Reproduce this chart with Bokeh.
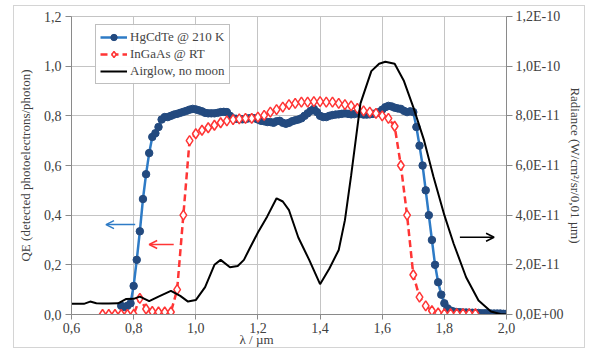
import numpy as np
from bokeh.plotting import figure
from bokeh.models import (Range1d, LinearAxis, FixedTicker, Legend, LegendItem,
                          Arrow, OpenHead)
from bokeh.embed import file_html
from bokeh.resources import INLINE

# ---------------- data ----------------
x_ticks = [0.6, 0.8, 1.0, 1.2, 1.4, 1.6, 1.8, 2.0]
x_tick_labels = ["0,6", "0,8", "1,0", "1,2", "1,4", "1,6", "1,8", "2,0"]
qe_ticks = [0.0, 0.2, 0.4, 0.6, 0.8, 1.0, 1.2]
qe_tick_labels = ["0,0", "0,2", "0,4", "0,6", "0,8", "1,0", "1,2"]
rad_ticks = [0, 2, 4, 6, 8, 10, 12]          # in units of 1E-11 W/cm2/sr/0.01um
rad_tick_labels = ["0,0E+00", "2,0E-11", "4,0E-11", "6,0E-11", "8,0E-11", "1,0E-10", "1,2E-10"]

hgcdte_wl = [0.76, 0.77, 0.78, 0.79, 0.80, 0.81, 0.82, 0.83, 0.84, 0.85,
             0.86, 0.87, 0.88, 0.89, 0.90, 0.91, 0.92, 0.93, 0.94, 0.95,
             0.96, 0.97, 0.98, 0.99, 1.00, 1.01, 1.02, 1.03, 1.04, 1.05,
             1.06, 1.07, 1.08, 1.09, 1.10, 1.11, 1.12, 1.13, 1.14, 1.15,
             1.16, 1.17, 1.18, 1.19, 1.20, 1.21, 1.22, 1.23, 1.24, 1.25,
             1.26, 1.27, 1.28, 1.29, 1.30, 1.31, 1.32, 1.33, 1.34, 1.35,
             1.36, 1.37, 1.38, 1.39, 1.40, 1.41, 1.42, 1.43, 1.44, 1.45,
             1.46, 1.47, 1.48, 1.49, 1.50, 1.51, 1.52, 1.53, 1.54, 1.55,
             1.56, 1.57, 1.58, 1.59, 1.60, 1.61, 1.62, 1.63, 1.64, 1.65,
             1.66, 1.67, 1.68, 1.69, 1.70, 1.71, 1.72, 1.73, 1.74, 1.75,
             1.76, 1.77, 1.78, 1.79, 1.80, 1.81, 1.82, 1.83, 1.84, 1.85,
             1.86, 1.87, 1.88, 1.89, 1.90, 1.91, 1.92, 1.93, 1.94, 1.95,
             1.96, 1.97, 1.98, 1.99, 2.00]
hgcdte_qe = [0.035, 0.030, 0.035, 0.045, 0.115, 0.220, 0.335, 0.465, 0.565, 0.650,
             0.715, 0.730, 0.755, 0.785, 0.795, 0.795, 0.800, 0.805, 0.808, 0.812,
             0.816, 0.820, 0.825, 0.828, 0.826, 0.822, 0.818, 0.812, 0.810, 0.810,
             0.810, 0.812, 0.815, 0.816, 0.815, 0.800, 0.790, 0.788, 0.787, 0.786,
             0.787, 0.790, 0.792, 0.790, 0.785, 0.780, 0.778, 0.775, 0.775, 0.772,
             0.778, 0.780, 0.772, 0.768, 0.772, 0.778, 0.782, 0.785, 0.790, 0.800,
             0.810, 0.820, 0.828, 0.815, 0.800, 0.795, 0.795, 0.800, 0.803, 0.805,
             0.806, 0.808, 0.810, 0.808, 0.806, 0.807, 0.810, 0.808, 0.805, 0.805,
             0.806, 0.808, 0.810, 0.815, 0.825, 0.835, 0.840, 0.838, 0.833, 0.830,
             0.828, 0.820, 0.815, 0.818, 0.815, 0.755, 0.680, 0.600, 0.500, 0.400,
             0.300, 0.200, 0.130, 0.080, 0.045, 0.025, 0.016, 0.012, 0.010, 0.009,
             0.008, 0.008, 0.007, 0.007, 0.006, 0.006, 0.005, 0.005, 0.005, 0.004,
             0.004, 0.004, 0.004, 0.003, 0.003]

ingaas_wl = [0.70, 0.72, 0.74, 0.76, 0.78, 0.80, 0.82, 0.84, 0.86, 0.88,
             0.90, 0.92, 0.94, 0.96, 0.98, 1.00, 1.02, 1.04, 1.06, 1.08,
             1.10, 1.12, 1.14, 1.16, 1.18, 1.20, 1.22, 1.24, 1.26, 1.28,
             1.30, 1.32, 1.34, 1.36, 1.38, 1.40, 1.42, 1.44, 1.46, 1.48,
             1.50, 1.52, 1.54, 1.56, 1.58, 1.60, 1.62, 1.64, 1.66, 1.68,
             1.70, 1.72, 1.74, 1.76, 1.78, 1.80, 1.82, 1.84, 1.86, 1.88,
             1.90]
ingaas_qe = [0.000, 0.000, 0.000, 0.000, 0.000, 0.000, 0.065, 0.022, 0.012, 0.010,
             0.010, 0.010, 0.100, 0.400, 0.700, 0.728, 0.742, 0.752, 0.762, 0.772,
             0.780, 0.785, 0.788, 0.790, 0.790, 0.795, 0.802, 0.815, 0.825, 0.835,
             0.845, 0.850, 0.855, 0.855, 0.857, 0.857, 0.855, 0.855, 0.850, 0.845,
             0.840, 0.830, 0.820, 0.815, 0.810, 0.800, 0.790, 0.758, 0.600, 0.400,
             0.160, 0.070, 0.035, 0.015, 0.006, 0.003, 0.003, 0.003, 0.003, 0.003,
             0.003]

airglow_wl = [0.60, 0.62, 0.64, 0.66, 0.68, 0.70, 0.72, 0.75, 0.775, 0.80,
              0.82, 0.85, 0.88, 0.92, 0.95, 0.975, 1.00, 1.03, 1.06, 1.08,
              1.11, 1.135, 1.155, 1.175, 1.20, 1.23, 1.26, 1.28, 1.30, 1.33,
              1.365, 1.40, 1.43, 1.46, 1.48, 1.50, 1.53, 1.565, 1.59, 1.61,
              1.64, 1.67, 1.70, 1.735, 1.765, 1.80, 1.83, 1.87, 1.91, 1.95,
              1.98, 2.00]
airglow_rad = [0.43, 0.43, 0.43, 0.52, 0.45, 0.44, 0.44, 0.45, 0.62, 0.63,
               0.72, 0.54, 0.72, 0.95, 0.75, 0.52, 0.58, 1.10, 2.00, 2.20,
               1.90, 1.95, 2.20, 2.70, 3.30, 3.95, 4.68, 4.55, 4.20, 3.10,
               2.20, 1.22, 1.85, 2.60, 3.80, 5.60, 8.50, 9.80, 10.10, 10.18,
               10.10, 9.40, 8.35, 7.00, 5.55, 4.00, 2.85, 1.50, 0.56, 0.12,
               0.02, 0.00]   # units of 1E-11

# ---------------- styles ----------------
FONT = "Liberation Serif"
BLUE_LINE = "#2E7BC6"
BLUE_MARK = "#234A7F"
RED = "#FF3535"
GRID = "#C4C4C4"
AXIS = "#8A8A8A"
TXT = "#404040"

p = figure(width=572, height=343, x_range=Range1d(0.6, 2.0), y_range=Range1d(0, 1.2),
           output_backend="svg", toolbar_location=None,
           min_border_left=54, min_border_right=75, min_border_top=10, min_border_bottom=35,
           margin=(5, 0, 0, 13))
p.styles = {"border": "1px solid #d4d4d4"}
p.extra_y_ranges = {"rad": Range1d(0, 12)}
p.outline_line_color = GRID
p.background_fill_color = "white"
p.border_fill_color = "white"

def style_axis(ax, ticks, labels, title, tick_out, label_standoff, title_standoff):
    ax.ticker = FixedTicker(ticks=ticks)
    ax.major_label_overrides = dict(zip(ticks, labels))
    ax.axis_line_color = AXIS
    ax.major_tick_line_color = AXIS
    ax.minor_tick_line_color = None
    ax.major_tick_in = 0
    ax.major_tick_out = tick_out
    ax.major_label_standoff = label_standoff
    ax.major_label_text_font = FONT
    ax.major_label_text_font_size = "14px"
    ax.major_label_text_color = TXT
    ax.axis_label = title
    ax.axis_label_text_font = FONT
    ax.axis_label_text_font_size = "13px"
    ax.axis_label_text_font_style = "normal"
    ax.axis_label_text_color = TXT
    ax.axis_label_standoff = title_standoff

style_axis(p.xaxis[0], x_ticks, x_tick_labels, "λ / µm" + "\u00a0" * 20, 5, 3, -4)
style_axis(p.yaxis[0], qe_ticks, qe_tick_labels, "QE (detected photoelectrons/photon)", 6, 4, 8)
rax = LinearAxis(y_range_name="rad")
style_axis(rax, rad_ticks, rad_tick_labels, "Radiance (W/cm²/sr/0,01 µm)", 6, 3, 2)
if "axis_label_orientation" in rax.properties():
    rax.axis_label_orientation = "vertical"
p.add_layout(rax, "right")

p.xgrid.ticker = FixedTicker(ticks=x_ticks)
p.ygrid.ticker = FixedTicker(ticks=qe_ticks)
p.xgrid.grid_line_color = GRID
p.ygrid.grid_line_color = GRID

# series
bl = p.line(hgcdte_wl, hgcdte_qe, line_color=BLUE_LINE, line_width=2.5)
bs = p.scatter(hgcdte_wl, hgcdte_qe, marker="circle", size=7.5, fill_color=BLUE_MARK,
               line_color=BLUE_MARK)
rl = p.line(ingaas_wl, ingaas_qe, line_color=RED, line_width=2.5, line_dash="7 4")
rs = p.scatter(ingaas_wl, ingaas_qe, marker="diamond", size=10,
               fill_color="white", line_color=RED, line_width=1.5)
kl = p.line(airglow_wl, airglow_rad, y_range_name="rad", line_color="black", line_width=2)

legend = Legend(items=[LegendItem(label="HgCdTe @ 210 K", renderers=[bl, bs]),
                       LegendItem(label="InGaAs @ RT", renderers=[rl, rs]),
                       LegendItem(label="Airglow, no moon", renderers=[kl])],
                location=(24, 230))
legend.border_line_color = "#808080"
legend.label_text_font = FONT
legend.label_text_font_size = "13px"
legend.glyph_width = 27
legend.glyph_height = 16
legend.label_height = 16
legend.spacing = 1
legend.padding = 4
legend.margin = 0
legend.label_standoff = 3
p.add_layout(legend)

# arrows pointing to the axes
p.add_layout(Arrow(x_start=0.805, y_start=0.362, x_end=0.711, y_end=0.362,
                   line_color=BLUE_LINE, line_width=1.5,
                   end=OpenHead(size=8, line_color=BLUE_LINE, line_width=1.5)))
p.add_layout(Arrow(x_start=0.929, y_start=0.282, x_end=0.85, y_end=0.282,
                   line_color=RED, line_width=1.5,
                   end=OpenHead(size=8, line_color=RED, line_width=1.5)))
p.add_layout(Arrow(x_start=1.85, y_start=0.311, x_end=1.96, y_end=0.311,
                   line_color="black", line_width=1.5,
                   end=OpenHead(size=8, line_color="black", line_width=1.5)))

open("out.html", "w").write(file_html(p, INLINE))
